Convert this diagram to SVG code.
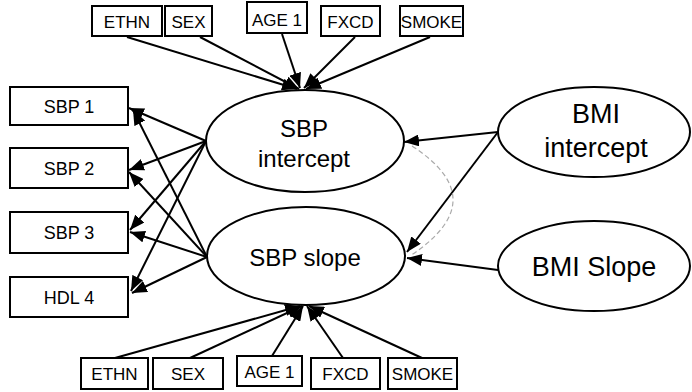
<svg xmlns="http://www.w3.org/2000/svg" width="692" height="392" viewBox="0 0 692 392">
<style>
.box{fill:#fff;stroke:#000;stroke-width:2}
.ell{fill:#fff;stroke:#000;stroke-width:2}
.t{font-family:"Liberation Sans",Arial,sans-serif;fill:#000;text-anchor:middle}
.s{font-size:17px}
.m{font-size:18px}
.l{font-size:24px}
.x{font-size:27px}
.c line{stroke:#000;stroke-width:2;marker-end:url(#ah)}
.d{fill:none;stroke:#aaa;stroke-width:1.2;stroke-dasharray:5,3}
</style>
<defs>
<marker id="ah" viewBox="0 0 15 12" refX="15" refY="6" markerWidth="15" markerHeight="12" markerUnits="userSpaceOnUse" orient="auto"><path d="M0,0 L15,6 L0,12 z" fill="#000"/></marker>
</defs>
<g id="connectors" class="c">
<line x1="127" y1="37" x2="297" y2="89"/>
<line x1="200" y1="37" x2="299" y2="89"/>
<line x1="282" y1="34" x2="300" y2="88"/>
<line x1="355" y1="37" x2="304" y2="88"/>
<line x1="430" y1="37" x2="306" y2="89"/>
<line x1="115" y1="358" x2="300" y2="306"/>
<line x1="190" y1="358" x2="302" y2="306"/>
<line x1="272" y1="356" x2="303" y2="306"/>
<line x1="343" y1="358" x2="307" y2="306"/>
<line x1="422" y1="358" x2="309" y2="306"/>
<line x1="206" y1="141" x2="129" y2="108"/>
<line x1="206" y1="141" x2="129" y2="170"/>
<line x1="206" y1="141" x2="130" y2="230"/>
<line x1="206" y1="141" x2="131" y2="291"/>
<line x1="207" y1="257" x2="133" y2="110"/>
<line x1="207" y1="257" x2="129" y2="172"/>
<line x1="207" y1="257" x2="130" y2="232"/>
<line x1="207" y1="257" x2="132" y2="293"/>
<line x1="498" y1="132" x2="404" y2="142"/>
<line x1="498" y1="132" x2="407" y2="252"/>
<line x1="498" y1="270" x2="407" y2="258"/>
<path class="d" d="M412,146 Q495,200 410,256"/>
</g>
<g id="top-ethn"><rect class="box" x="92" y="6" width="70" height="30"/><text class="t s" x="127" y="28">ETHN</text></g>
<g id="top-sex"><rect class="box" x="165" y="6" width="47" height="30"/><text class="t s" x="188.5" y="28">SEX</text></g>
<g id="top-age1"><rect class="box" x="247" y="2" width="60" height="31"/><text class="t s" x="277" y="26">AGE 1</text></g>
<g id="top-fxcd"><rect class="box" x="321" y="6" width="59" height="30"/><text class="t s" x="350.5" y="28">FXCD</text></g>
<g id="top-smoke"><rect class="box" x="400" y="6" width="63" height="30"/><text class="t s" x="431.5" y="28">SMOKE</text></g>
<g id="sbp1"><rect class="box" x="10" y="87" width="118" height="38"/><text class="t m" x="69" y="113">SBP 1</text></g>
<g id="sbp2"><rect class="box" x="10" y="148" width="118" height="40"/><text class="t m" x="69" y="175">SBP 2</text></g>
<g id="sbp3"><rect class="box" x="10" y="212" width="118" height="41"/><text class="t m" x="69" y="239">SBP 3</text></g>
<g id="hdl4"><rect class="box" x="10" y="277" width="118" height="40"/><text class="t m" x="69" y="304">HDL 4</text></g>
<g id="sbp-intercept"><ellipse class="ell" cx="305" cy="141" rx="99" ry="51"/><text class="t l" x="304" y="137">SBP</text><text class="t l" x="304" y="167">intercept</text></g>
<g id="sbp-slope"><ellipse class="ell" cx="306" cy="256" rx="99" ry="49"/><text class="t l" x="305" y="266">SBP slope</text></g>
<g id="bmi-intercept"><ellipse class="ell" cx="594" cy="132" rx="96" ry="45"/><text class="t x" x="596" y="123">BMI</text><text class="t x" x="596" y="157">intercept</text></g>
<g id="bmi-slope"><ellipse class="ell" cx="594" cy="266" rx="96" ry="45"/><text class="t x" x="594" y="276">BMI Slope</text></g>
<g id="bot-ethn"><rect class="box" x="81" y="358" width="67" height="31"/><text class="t s" x="114.5" y="380">ETHN</text></g>
<g id="bot-sex"><rect class="box" x="153" y="358" width="70" height="31"/><text class="t s" x="188" y="380">SEX</text></g>
<g id="bot-age1"><rect class="box" x="237" y="356" width="65" height="30"/><text class="t s" x="269.5" y="378">AGE 1</text></g>
<g id="bot-fxcd"><rect class="box" x="311" y="358" width="69" height="31"/><text class="t s" x="345.5" y="380">FXCD</text></g>
<g id="bot-smoke"><rect class="box" x="388" y="358" width="69" height="31"/><text class="t s" x="422.5" y="380">SMOKE</text></g>
</svg>
